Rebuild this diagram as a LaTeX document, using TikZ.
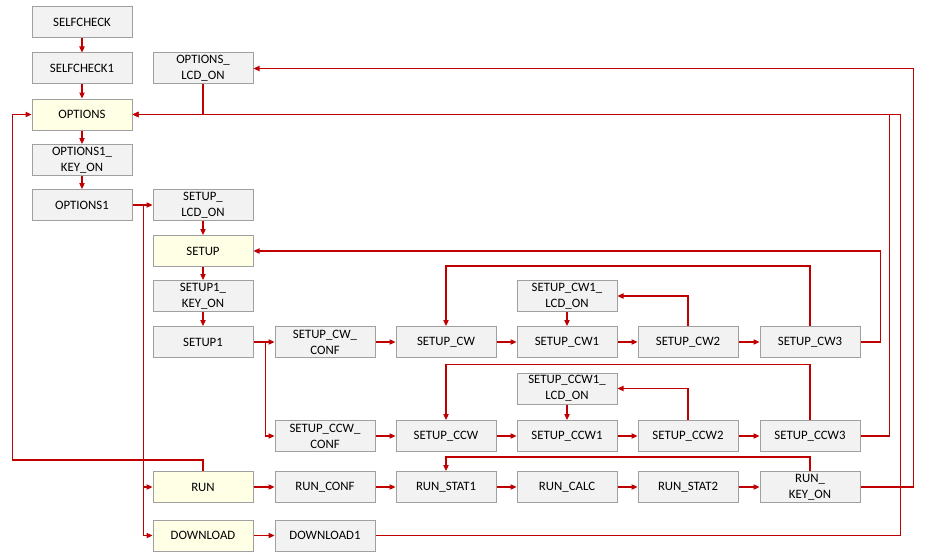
\documentclass[tikz,border=0pt]{standalone}
\usepackage{fontspec}
\setmainfont{Carlito}
\usetikzlibrary{arrows.meta,calc}
\definecolor{linered}{RGB}{192,0,0}
\definecolor{boxgray}{RGB}{242,242,242}
\definecolor{boxyellow}{RGB}{255,255,230}
\definecolor{bordergray}{RGB}{160,160,160}
\begin{document}
\begin{tikzpicture}[x=0.75pt,y=-0.75pt,
  stbox/.style={draw=bordergray,line width=0.75pt,fill=boxgray,minimum width=75pt,minimum height=23.25pt,inner sep=0pt,align=center,font=\fontsize{9.6}{12}\selectfont},
  hibox/.style={stbox,fill=boxyellow},
  conn/.style={draw=linered,line width=0.8pt},
  arr/.style={conn,-{Triangle[length=4.5pt,width=4pt]}}]
\useasboundingbox (0,0) rectangle (931,560);
% column 0
\node[stbox] (selfcheck) at (82,22.5) {SELFCHECK};
\node[stbox] (selfcheck1) at (82,68.5) {SELFCHECK1};
\node[hibox] (options) at (82,114.5) {OPTIONS};
\node[stbox] (opt1key) at (82,160) {OPTIONS1\_\\KEY\_ON};
\node[stbox] (opt1) at (82,205) {OPTIONS1};
% column 1
\node[stbox] (optlcd) at (203,68.5) {OPTIONS\_\\LCD\_ON};
\node[stbox] (setuplcd) at (203,205) {SETUP\_\\LCD\_ON};
\node[hibox] (setup) at (203,251) {SETUP};
\node[stbox] (setup1key) at (203,296) {SETUP1\_\\KEY\_ON};
\node[stbox] (setup1) at (203,342) {SETUP1};
\node[hibox] (run) at (203,487) {RUN};
\node[hibox] (download) at (203,535.5) {DOWNLOAD};
% CW row
\node[stbox] (cwconf) at (325,342) {SETUP\_CW\_\\CONF};
\node[stbox] (cw) at (446,342) {SETUP\_CW};
\node[stbox] (cw1) at (567,342) {SETUP\_CW1};
\node[stbox] (cw2) at (688,342) {SETUP\_CW2};
\node[stbox] (cw3) at (810,342) {SETUP\_CW3};
\node[stbox] (cw1lcd) at (567,296) {SETUP\_CW1\_\\LCD\_ON};
% CCW row
\node[stbox] (ccwlcd) at (567,388.5) {SETUP\_CCW1\_\\LCD\_ON};
\node[stbox] (ccwconf) at (325,436) {SETUP\_CCW\_\\CONF};
\node[stbox] (ccw) at (446,436) {SETUP\_CCW};
\node[stbox] (ccw1) at (567,436) {SETUP\_CCW1};
\node[stbox] (ccw2) at (688,436) {SETUP\_CCW2};
\node[stbox] (ccw3) at (810,436) {SETUP\_CCW3};
% RUN row
\node[stbox] (runconf) at (325,487) {RUN\_CONF};
\node[stbox] (runstat1) at (446,487) {RUN\_STAT1};
\node[stbox] (runcalc) at (567,487) {RUN\_CALC};
\node[stbox] (runstat2) at (688,487) {RUN\_STAT2};
\node[stbox] (runkey) at (810,487) {RUN\_\\KEY\_ON};
\node[stbox] (download1) at (325,535.5) {DOWNLOAD1};
% junctions
\coordinate (j1) at ($(opt1.east)+(11,0)$);
\coordinate (j2) at ($(setup1.east)+(12,0)$);
% vertical chain
\draw[arr] (selfcheck) -- (selfcheck1);
\draw[arr] (selfcheck1) -- (options);
\draw[arr] (options) -- (opt1key);
\draw[arr] (opt1key) -- (opt1);
\draw[arr] (setuplcd) -- (setup);
\draw[arr] (setup) -- (setup1key);
\draw[arr] (setup1key) -- (setup1);
\draw[arr] (cw1lcd) -- (cw1);
\draw[arr] (ccwlcd) -- (ccw1);
% OPTIONS1 branches
\draw[conn] (opt1.east) -- (j1);
\draw[arr] (j1) -- (setuplcd.west);
\draw[arr] (j1) |- (run.west);
\draw[arr] (j1) |- (download.west);
% SETUP1 branches
\draw[conn] (setup1.east) -- (j2);
\draw[arr] (j2) -- (cwconf.west);
\draw[arr] (j2) |- (ccwconf.west);
% horizontal chains
\draw[arr] (cwconf) -- (cw);
\draw[arr] (cw) -- (cw1);
\draw[arr] (cw1) -- (cw2);
\draw[arr] (cw2) -- (cw3);
\draw[arr] (ccwconf) -- (ccw);
\draw[arr] (ccw) -- (ccw1);
\draw[arr] (ccw1) -- (ccw2);
\draw[arr] (ccw2) -- (ccw3);
\draw[arr] (run) -- (runconf);
\draw[arr] (runconf) -- (runstat1);
\draw[arr] (runstat1) -- (runcalc);
\draw[arr] (runcalc) -- (runstat2);
\draw[arr] (runstat2) -- (runkey);
\draw[arr] (download) -- (download1);
% loops
\draw[arr] (cw2.north) |- (cw1lcd.east);
\draw[arr] (ccw2.north) |- (ccwlcd.east);
\draw[arr] (cw3.north) -- ++(0,-60) -| (cw.north);
\draw[arr] (ccw3.north) -- ++(0,-55.5) -| (ccw.north);
\draw[arr] (runkey.north) -- ++(0,-14) -| (runstat1.north);
\draw[arr] (cw3.east) -- ++(20,0) |- (setup.east);
\draw[arr] (ccw3.east) -- ++(29,0) |- (options.east);
\draw[arr] (download1.east) -- ++(525,0) |- (options.east);
\draw[arr] (runkey.east) -- ++(53,0) |- (optlcd.east);
\draw[conn] (optlcd.south) -- (optlcd.south |- options.east);
\draw[arr] (run.north) -- ++(0,-11) -| ($(options.west)+(-19,0)$) -- (options.west);
\end{tikzpicture}
\end{document}
